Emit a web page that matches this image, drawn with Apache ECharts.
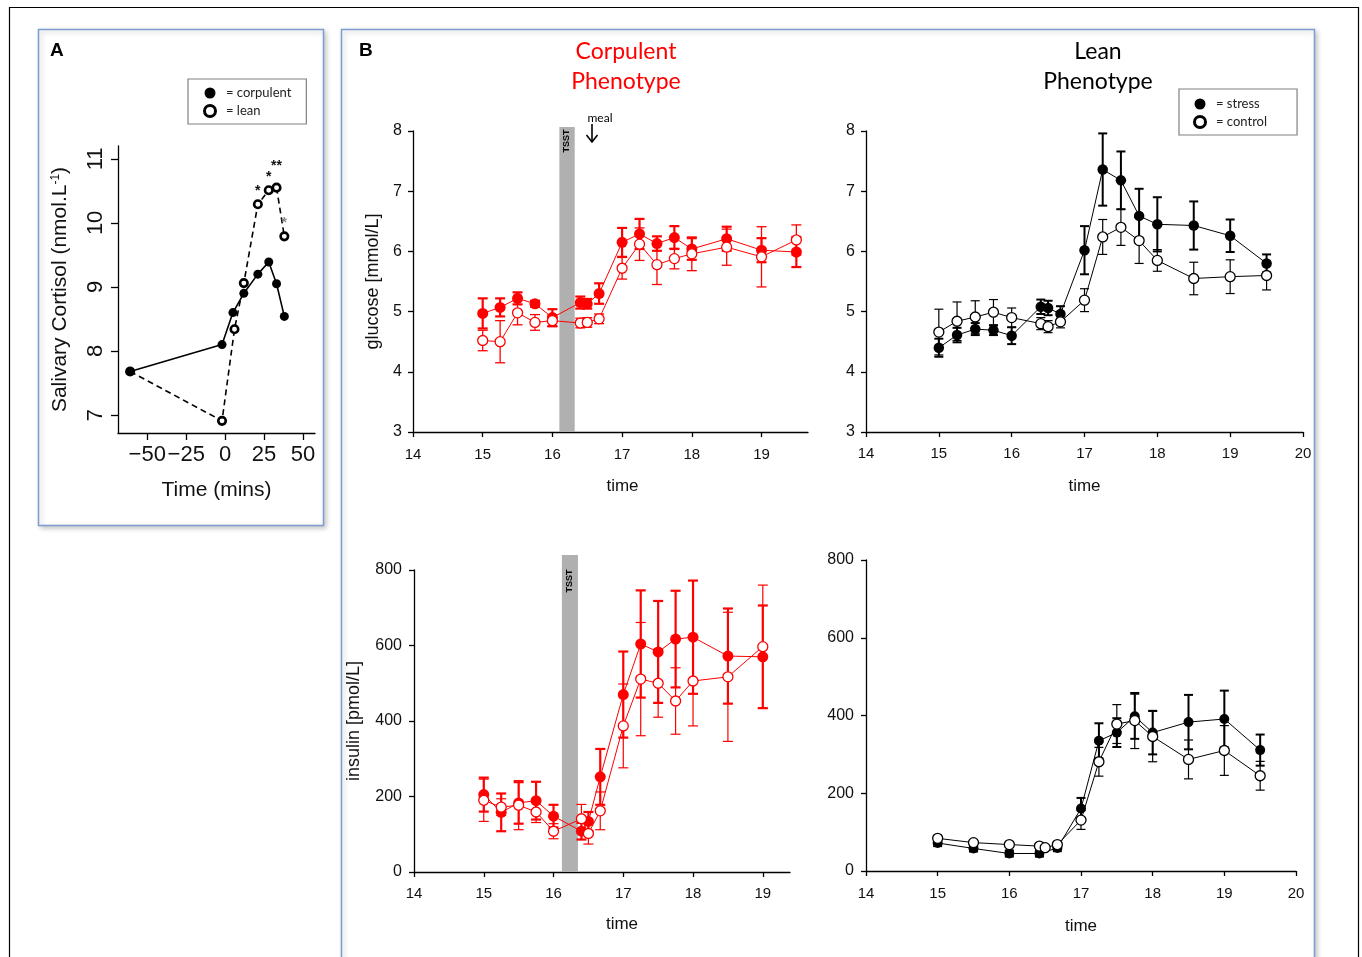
<!DOCTYPE html>
<html>
<head>
<meta charset="utf-8">
<script src="https://cdn.jsdelivr.net/npm/echarts@6/dist/echarts.min.js"></script>
<style>
  html, body { margin: 0; padding: 0; background: #fff; }
  #chart { width: 1362px; height: 957px; }
</style>
</head>
<body>
<div id="chart"></div>
<script>
// ---------------- DATA ----------------
// Panel A: salivary cortisol
const cortCorpTime = [-61, -2, 5, 12, 21, 28, 33, 38];
const cortCorp = [7.68, 8.10, 8.60, 8.90, 9.20, 9.39, 9.05, 8.54];
const cortLeanTime = [-61, -2, 6, 12, 21, 28, 33, 38];
const cortLean = [7.68, 6.91, 8.34, 9.06, 10.29, 10.51, 10.55, 9.79];
const cortLeanSig = ['', '', '', '', '*', '*', '**', '*'];
const cortXTicks = [-50, -25, 0, 25, 50];
const cortYTicks = [7, 8, 9, 10, 11];

// Glucose (time of day)
const glucTime = [15, 15.25, 15.5, 15.75, 16, 16.4, 16.5, 16.67, 17, 17.25, 17.5, 17.75, 18, 18.5, 19, 19.5];
const glucCorpStress = [4.97, 5.07, 5.22, 5.13, 4.90, 5.15, 5.13, 5.30, 6.15, 6.29, 6.13, 6.23, 6.04, 6.21, 6.02, 5.99];
const glucCorpStressErr = [0.25, 0.15, 0.10, 0.05, 0.14, 0.10, 0.08, 0.17, 0.24, 0.25, 0.12, 0.19, 0.18, 0.20, 0.20, 0.25];
const glucCorpControl = [4.52, 4.50, 4.98, 4.82, 4.85, 4.81, 4.82, 4.88, 5.72, 6.12, 5.78, 5.88, 5.96, 6.07, 5.91, 6.19];
const glucCorpControlErr = [0.17, 0.35, 0.20, 0.13, 0.10, 0.08, 0.08, 0.08, 0.18, 0.27, 0.33, 0.17, 0.28, 0.30, 0.50, 0.25];
const glucLeanStress = [4.40, 4.61, 4.71, 4.69, 4.60, 5.08, 5.06, 4.96, 6.02, 7.36, 7.18, 6.59, 6.45, 6.43, 6.26, 5.80];
const glucLeanStressErr = [0.15, 0.12, 0.10, 0.08, 0.14, 0.12, 0.12, 0.13, 0.40, 0.60, 0.48, 0.45, 0.45, 0.40, 0.27, 0.15];
const glucLeanControl = [4.66, 4.84, 4.91, 4.99, 4.90, 4.80, 4.75, 4.83, 5.19, 6.24, 6.40, 6.18, 5.85, 5.55, 5.58, 5.60];
const glucLeanControlErr = [0.38, 0.32, 0.27, 0.21, 0.16, 0.10, 0.10, 0.10, 0.19, 0.29, 0.30, 0.38, 0.18, 0.27, 0.28, 0.24];

// Insulin
const insCorpTime = [15, 15.25, 15.5, 15.75, 16, 16.4, 16.5, 16.67, 17, 17.25, 17.5, 17.75, 18, 18.5, 19];
const insCorpStress = [205, 158, 183, 189, 148, 108, 134, 252, 470, 604, 583, 617, 622, 572, 570];
const insCorpStressErr = [45, 50, 55, 50, 30, 22, 25, 74, 114, 142, 135, 128, 150, 126, 136];
const insCorpControl = [190, 172, 177, 159, 108, 141, 102, 162, 387, 511, 500, 453, 506, 517, 597];
const insCorpControlErr = [56, 22, 65, 28, 20, 38, 28, 50, 111, 150, 90, 88, 119, 171, 163];
const insLeanStressTime = [15, 15.5, 16, 16.42, 16.67, 17, 17.25, 17.5, 17.75, 18, 18.5, 19, 19.5];
const insLeanStress = [72, 58, 45, 45, 59, 161, 335, 356, 398, 356, 383, 391, 311];
const insLeanStressErr = [8, 8, 8, 8, 8, 27, 45, 37, 58, 56, 70, 73, 40];
const insLeanControlTime = [15, 15.5, 16, 16.42, 16.5, 16.67, 17, 17.25, 17.5, 17.75, 18, 18.5, 19, 19.5];
const insLeanControl = [84, 73, 68, 64, 60, 68, 131, 281, 378, 387, 346, 287, 310, 245];
const insLeanControlErr = [6, 6, 6, 6, 6, 6, 24, 37, 50, 72, 65, 50, 64, 37];

// Time ticks
const hourTicksShort = [14, 15, 16, 17, 18, 19];
// TSST intervals (time of day)
const tsstGluc = [16.1, 16.32];
const tsstIns = [16.12, 16.35];

// ---------------- CHART ----------------
const RED = '#ff0000';
const FONT = 'Liberation Sans, Arial, sans-serif';
const chart = echarts.init(document.getElementById('chart'), null, { renderer: 'canvas' });

function baseAxis(extra) {
  const ax = {
    type: 'value',
    axisLine: { show: true, onZero: false, lineStyle: { color: '#000', width: 1.3 } },
    axisTick: { show: true, length: 5, lineStyle: { color: '#000', width: 1.3 } },
    axisLabel: { color: '#111', fontFamily: FONT, fontSize: 15 },
    splitLine: { show: false },
    nameTextStyle: { color: '#111', fontFamily: FONT, fontSize: 17 }
  };
  return echarts.util.merge(ax, extra || {}, true);
}
function hidden(gi, min, max) {
  return { type: 'value', gridIndex: gi, min: min, max: max, show: false,
    axisLine: { show: false, onZero: false }, splitLine: { show: false } };
}

function errBars(xs, ys, es, color, lw, cap, ai) {
  return {
    type: 'custom', xAxisIndex: ai, yAxisIndex: ai, silent: true, z: 2,
    data: xs.map((x, i) => [x, ys[i] - es[i], ys[i] + es[i]]),
    encode: { x: 0, y: [1, 2] },
    renderItem: function (params, api) {
      const x = api.value(0);
      const lo = api.coord([x, api.value(1)]);
      const hi = api.coord([x, api.value(2)]);
      const st = { stroke: color, lineWidth: lw };
      return { type: 'group', children: [
        { type: 'line', shape: { x1: lo[0], y1: lo[1], x2: hi[0], y2: hi[1] }, style: st },
        { type: 'line', shape: { x1: hi[0] - cap, y1: hi[1], x2: hi[0] + cap, y2: hi[1] }, style: st },
        { type: 'line', shape: { x1: lo[0] - cap, y1: lo[1], x2: lo[0] + cap, y2: lo[1] }, style: st }
      ]};
    }
  };
}
function lineS(name, xs, ys, color, filled, size, ai, lw) {
  return {
    type: 'line', name: name, xAxisIndex: ai, yAxisIndex: ai, z: 3,
    symbol: 'circle', symbolSize: size, showAllSymbol: true, silent: true,
    emphasis: { disabled: true },
    data: xs.map((x, i) => [x, ys[i]]),
    lineStyle: { color: color, width: lw || 1 },
    itemStyle: filled ? { color: color, borderColor: color, borderWidth: 0 }
                      : { color: '#fff', borderColor: color, borderWidth: 1.3 }
  };
}

const grids = [
  { left: 118, top: 146, width: 197, height: 287 },   // A
  { left: 413, top: 131, width: 395, height: 301 },   // glucose corpulent
  { left: 866, top: 131, width: 437, height: 301 },   // glucose lean
  { left: 414, top: 570, width: 376, height: 302 },   // insulin corpulent
  { left: 866, top: 560, width: 430, height: 311 },   // insulin lean
  { left: 413, top: 127, width: 395, height: 305 },   // TSST overlay glucose
  { left: 414, top: 555, width: 376, height: 317 }    // TSST overlay insulin
];

const xAxes = [
  baseAxis({ gridIndex: 0, min: -68.8, max: 57.7,
    axisTick: { length: 7, customValues: cortXTicks },
    axisLabel: { fontSize: 22, margin: 11, customValues: cortXTicks,
      formatter: v => String(v).replace('-', '\u2212') },
    name: 'Time (mins)', nameLocation: 'middle', nameGap: 47,
    nameTextStyle: { fontSize: 21 } }),
  baseAxis({ gridIndex: 1, min: 14, max: 19.667,
    axisTick: { customValues: hourTicksShort },
    axisLabel: { customValues: hourTicksShort, margin: 15 },
    name: 'time', nameLocation: 'middle', nameGap: 46,
    nameTextStyle: { padding: [0, 0, 0, 24] } }),
  baseAxis({ gridIndex: 2, min: 14, max: 20, interval: 1,
    axisLabel: { margin: 14 },
    name: 'time', nameLocation: 'middle', nameGap: 46 }),
  baseAxis({ gridIndex: 3, min: 14, max: 19.39,
    axisTick: { customValues: hourTicksShort },
    axisLabel: { customValues: hourTicksShort, margin: 14 },
    name: 'time', nameLocation: 'middle', nameGap: 44,
    nameTextStyle: { padding: [0, 0, 0, 40] } }),
  baseAxis({ gridIndex: 4, min: 14, max: 20, interval: 1,
    axisLabel: { margin: 15 },
    name: 'time', nameLocation: 'middle', nameGap: 47 }),
  hidden(5, 14, 19.667),
  hidden(6, 14, 19.39)
];
const yAxes = [
  baseAxis({ gridIndex: 0, min: 6.72, max: 11.2,
    axisTick: { length: 7, customValues: cortYTicks },
    axisLabel: { fontSize: 22, margin: 11, rotate: 90, customValues: cortYTicks },
    name: 'Salivary Cortisol (nmol.L{sup|-1})', nameLocation: 'middle', nameGap: 47,
    nameTextStyle: { fontSize: 21, rich: { sup: { fontSize: 12, verticalAlign: 'top', fontFamily: FONT, color: '#111' } } } }),
  baseAxis({ gridIndex: 1, min: 3, max: 8, interval: 1,
    axisLabel: { fontSize: 16, margin: 11 },
    name: 'glucose [mmol/L]', nameLocation: 'middle', nameGap: 31,
    nameTextStyle: { fontSize: 18 } }),
  baseAxis({ gridIndex: 2, min: 3, max: 8, interval: 1,
    axisLabel: { fontSize: 16, margin: 11 } }),
  baseAxis({ gridIndex: 3, min: 0, max: 800, interval: 200,
    axisLabel: { fontSize: 16, margin: 12 },
    name: 'insulin [pmol/L]', nameLocation: 'middle', nameGap: 51,
    nameTextStyle: { fontSize: 18 } }),
  baseAxis({ gridIndex: 4, min: 0, max: 800, interval: 200,
    axisLabel: { fontSize: 16, margin: 12 } }),
  hidden(5, 0, 1),
  hidden(6, 0, 1)
];

const tsstArea = (iv) => ({
  silent: true,
  itemStyle: { color: '#b0b0b0' },
  data: [[{ xAxis: iv[0], yAxis: 0 }, { xAxis: iv[1], yAxis: 1 }]]
});

const leanCort = lineS('lean', cortLeanTime, cortLean, '#000', false, 7.5, 0, 1.6);
leanCort.lineStyle = { color: '#000', width: 1.6, type: [6, 4] };
leanCort.itemStyle = { color: '#fff', borderColor: '#000', borderWidth: 2.6 };
leanCort.data = cortLeanTime.map((t, i) => ({
  value: [t, cortLean[i]],
  label: { show: cortLeanSig[i] !== '', formatter: cortLeanSig[i], position: 'top',
    distance: cortLeanSig[i] === '**' ? 9 : 1,
    color: i === cortLean.length - 1 ? '#888' : '#111',
    fontSize: 14, fontWeight: 'bold', fontFamily: FONT }
}));
const corpCort = lineS('corpulent', cortCorpTime, cortCorp, '#000', true, 9, 0, 1.6);
corpCort.z = 4;

const series = [
  // TSST bars
  { type: 'line', xAxisIndex: 5, yAxisIndex: 5, data: [], z: 1, markArea: tsstArea(tsstGluc) },
  { type: 'line', xAxisIndex: 6, yAxisIndex: 6, data: [], z: 1, markArea: tsstArea(tsstIns) },

  // Panel A
  leanCort,
  corpCort,

  // Glucose corpulent
  errBars(glucTime, glucCorpStress, glucCorpStressErr, RED, 2.2, 5, 1),
  errBars(glucTime, glucCorpControl, glucCorpControlErr, RED, 1.3, 5, 1),
  lineS('corpulent stress', glucTime, glucCorpStress, RED, true, 11, 1),
  lineS('corpulent control', glucTime, glucCorpControl, RED, false, 10, 1),

  // Glucose lean
  errBars(glucTime, glucLeanStress, glucLeanStressErr, '#000', 2, 4.5, 2),
  errBars(glucTime, glucLeanControl, glucLeanControlErr, '#000', 1.2, 4.5, 2),
  lineS('stress', glucTime, glucLeanStress, '#000', true, 10.5, 2),
  lineS('control', glucTime, glucLeanControl, '#000', false, 10, 2),

  // Insulin corpulent
  errBars(insCorpTime, insCorpStress, insCorpStressErr, RED, 2.2, 5, 3),
  errBars(insCorpTime, insCorpControl, insCorpControlErr, RED, 1.2, 5, 3),
  lineS('corpulent stress', insCorpTime, insCorpStress, RED, true, 11, 3),
  lineS('corpulent control', insCorpTime, insCorpControl, RED, false, 10, 3),

  // Insulin lean
  errBars(insLeanStressTime, insLeanStress, insLeanStressErr, '#000', 2, 4.5, 4),
  errBars(insLeanControlTime, insLeanControl, insLeanControlErr, '#000', 1.2, 4.5, 4),
  lineS('stress', insLeanStressTime, insLeanStress, '#000', true, 10, 4),
  lineS('control', insLeanControlTime, insLeanControl, '#000', false, 10, 4)
];

const legendBase = {
  orient: 'vertical', selectedMode: false, itemWidth: 22, itemHeight: 11, itemGap: 4,
  borderColor: '#808080', borderWidth: 1.2, formatter: '= {name}',
  textStyle: { fontFamily: 'Lato, sans-serif', fontSize: 13, color: '#222', lineHeight: 14 }
};
const legends = [
  Object.assign({}, legendBase, { left: 188, top: 79, padding: [7, 15, 6, 15],
    data: [
      { name: 'corpulent', icon: 'circle', itemStyle: { color: '#000', borderWidth: 0 } },
      { name: 'lean', icon: 'circle', itemStyle: { color: '#fff', borderColor: '#000', borderWidth: 3 } }
    ] }),
  Object.assign({}, legendBase, { left: 1179, top: 89, padding: [8, 30, 6, 14],
    data: [
      { name: 'stress', icon: 'circle', itemStyle: { color: '#000', borderWidth: 0 } },
      { name: 'control', icon: 'circle', itemStyle: { color: '#fff', borderColor: '#000', borderWidth: 3 } }
    ] })
];

const shadow = { shadowBlur: 5, shadowColor: 'rgba(0,0,0,0.22)', shadowOffsetX: 2, shadowOffsetY: 2 };
const graphics = [
  { type: 'rect', silent: true, z: -10, shape: { x: 9.5, y: 7.5, width: 1349, height: 1000 },
    style: { fill: 'none', stroke: '#000', lineWidth: 1.2 } },
  { type: 'rect', silent: true, z: -9, shape: { x: 38.5, y: 29.5, width: 285, height: 496 },
    style: Object.assign({ fill: '#fff', stroke: '#7c9cd3', lineWidth: 1.5 }, shadow) },
  { type: 'rect', silent: true, z: -9, shape: { x: 341.5, y: 29.5, width: 973, height: 960 },
    style: Object.assign({ fill: '#fff', stroke: '#7c9cd3', lineWidth: 1.5 }, shadow) },
  { type: 'text', silent: true, x: 50, y: 51, style: { text: 'A', font: 'bold 19px Liberation Sans, Arial', fill: '#000', textVerticalAlign: 'middle' } },
  { type: 'text', silent: true, x: 359, y: 51, style: { text: 'B', font: 'bold 19px Liberation Sans, Arial', fill: '#000', textVerticalAlign: 'middle' } },
  { type: 'text', silent: true, x: 626, y: 52, style: { text: 'Corpulent', font: '23px Lato, sans-serif', fill: RED, textAlign: 'center', textVerticalAlign: 'middle' } },
  { type: 'text', silent: true, x: 626, y: 82, style: { text: 'Phenotype', font: '23px Lato, sans-serif', fill: RED, textAlign: 'center', textVerticalAlign: 'middle' } },
  { type: 'text', silent: true, x: 1098, y: 52, style: { text: 'Lean', font: '23px Lato, sans-serif', fill: '#000', textAlign: 'center', textVerticalAlign: 'middle' } },
  { type: 'text', silent: true, x: 1098, y: 82, style: { text: 'Phenotype', font: '23px Lato, sans-serif', fill: '#000', textAlign: 'center', textVerticalAlign: 'middle' } },
  { type: 'text', silent: true, x: 600, y: 118, style: { text: 'meal', font: '12px Lato, sans-serif', fill: '#000', textAlign: 'center', textVerticalAlign: 'middle' } },
  { type: 'polyline', silent: true, shape: { points: [[592, 124], [592, 142]] }, style: { stroke: '#000', lineWidth: 1.6, fill: 'none' } },
  { type: 'polyline', silent: true, shape: { points: [[586.5, 135], [592, 142], [597.5, 135]] }, style: { stroke: '#000', lineWidth: 1.6, fill: 'none' } },
  { type: 'text', silent: true, x: 567, y: 141, rotation: Math.PI / 2, z: 10,
    style: { text: 'TSST', font: 'bold 9px Liberation Sans, Arial', fill: '#000', textAlign: 'center', textVerticalAlign: 'middle' } },
  { type: 'text', silent: true, x: 570, y: 581, rotation: Math.PI / 2, z: 10,
    style: { text: 'TSST', font: 'bold 9px Liberation Sans, Arial', fill: '#000', textAlign: 'center', textVerticalAlign: 'middle' } }
];

chart.setOption({
  animation: false,
  backgroundColor: '#fff',
  textStyle: { fontFamily: FONT },
  grid: grids,
  xAxis: xAxes,
  yAxis: yAxes,
  legend: legends,
  series: series,
  graphic: graphics
});
</script>
</body>
</html>
